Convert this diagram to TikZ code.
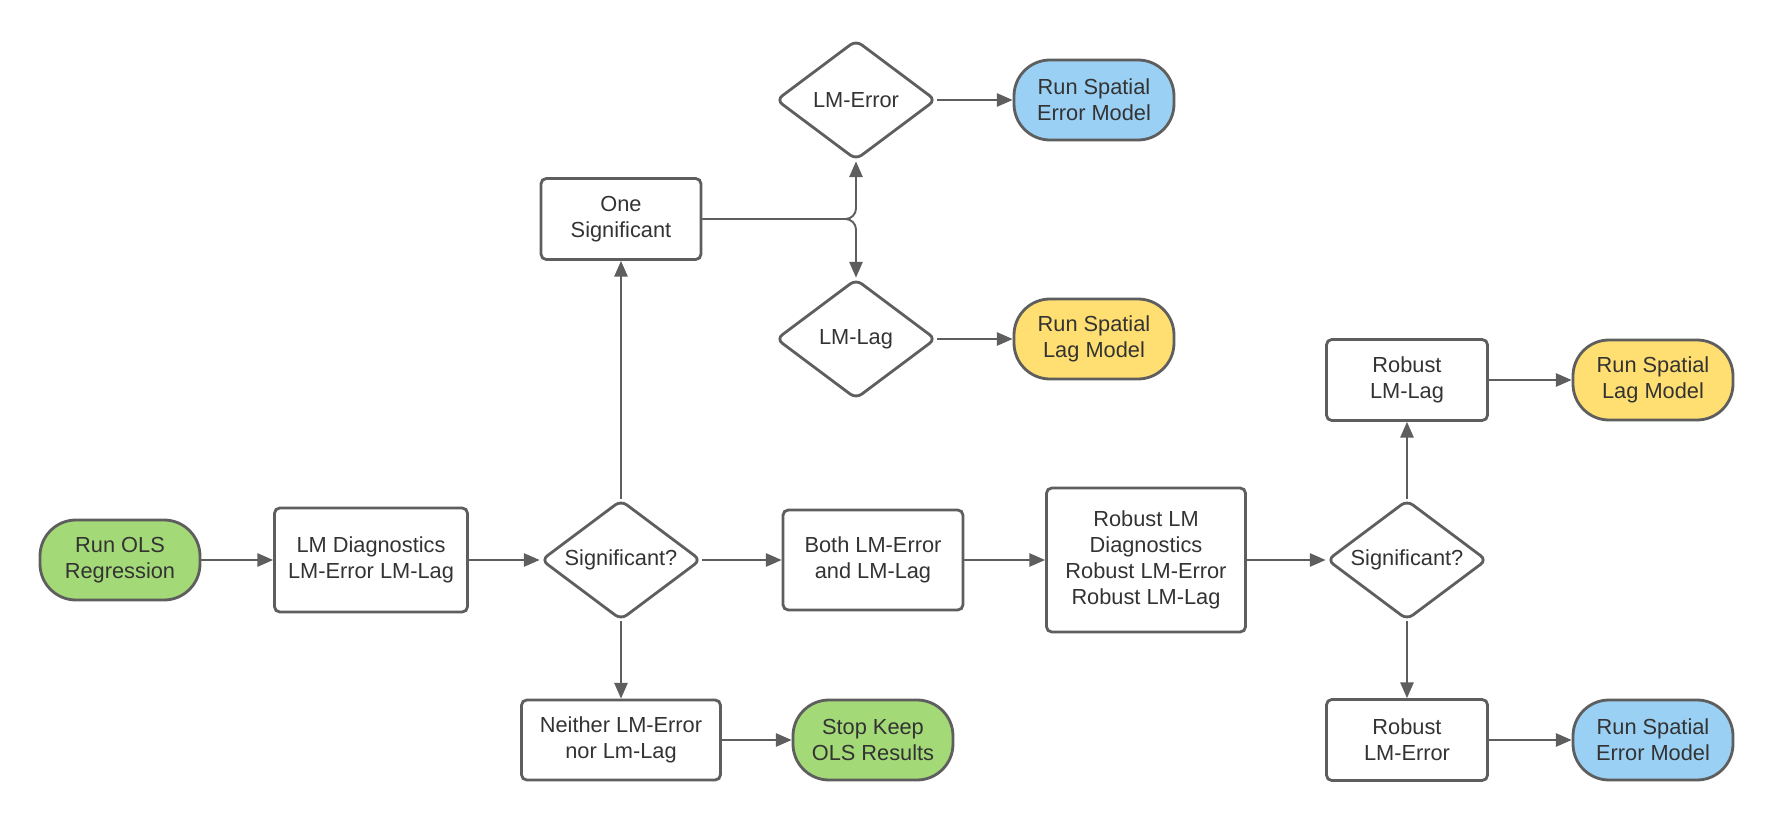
\documentclass[tikz,border=0pt]{standalone}
\usepackage{fontspec}
\setmainfont{Liberation Sans}
\usepackage{xcolor}
\usepackage{tikz}
\usetikzlibrary{shapes.geometric, arrows.meta, positioning}
\definecolor{lineg}{HTML}{5E5E5E}
\definecolor{textg}{HTML}{333333}
\definecolor{okgreen}{HTML}{A3D977}
\definecolor{errblue}{HTML}{9AD0F3}
\definecolor{lagyellow}{HTML}{FFDF71}
\tikzstyle{terminal} = [rectangle, rounded corners=0.36cm, minimum width=1.6cm, minimum height=0.8cm, text centered, align=center, draw=lineg, line width=0.8pt]
\tikzstyle{process} = [rectangle, rounded corners=1.5pt, minimum width=1.6cm, minimum height=0.81cm, text centered, align=center, draw=lineg, line width=0.8pt, fill=white]
\tikzstyle{decision} = [diamond, rounded corners=2pt, minimum width=1.6cm, minimum height=1.2cm, inner sep=0pt, aspect=1.33, text centered, draw=lineg, line width=0.8pt, fill=white]
\tikzstyle{arrow} = [line width=0.55pt, draw=lineg, -{Triangle[length=4.5pt,width=3.8pt]}]

\begin{document}
\begin{tikzpicture}[font=\fontsize{6.2}{7.4}\selectfont, text=textg]
\useasboundingbox (0,0) rectangle (17.74,-8.2);

% main row
\node (olsreg) [terminal, fill=okgreen] at (1.2,-5.6) {Run OLS\\Regression};
\node (lmdiag) [process, right of=olsreg, node distance=2.51cm, minimum width=1.93cm, minimum height=1.04cm] {LM Diagnostics\\LM-Error LM-Lag};
\node (sigone) [decision, right of=lmdiag, node distance=2.5cm] {Significant?};
\node (both) [process, right of=sigone, node distance=2.52cm, minimum width=1.8cm, minimum height=1.0cm] {Both LM-Error\\and LM-Lag};
\node (robdiag) [process, right of=both, node distance=2.73cm, minimum width=1.99cm, minimum height=1.44cm] {Robust LM\\Diagnostics\\Robust LM-Error\\Robust LM-Lag};
\node (sigtwo) [decision, right of=robdiag, node distance=2.61cm] {Significant?};

% robust branch
\node (roblag) [process, above of=sigtwo, node distance=1.8cm, minimum width=1.61cm] {Robust\\LM-Lag};
\node (runlagb) [terminal, fill=lagyellow, right of=roblag, node distance=2.46cm] {Run Spatial\\Lag Model};
\node (roberr) [process, below of=sigtwo, node distance=1.8cm, minimum width=1.61cm] {Robust\\LM-Error};
\node (runerrb) [terminal, fill=errblue, right of=roberr, node distance=2.46cm] {Run Spatial\\Error Model};

% neither / one
\node (neither) [process, below of=sigone, node distance=1.8cm, minimum width=1.99cm, minimum height=0.8cm] {Neither LM-Error\\nor Lm-Lag};
\node (stop) [terminal, fill=okgreen, right of=neither, node distance=2.52cm] {Stop Keep\\OLS Results};
\node (onesig) [process, above of=sigone, node distance=3.41cm] {One\\Significant};

% upper branch
\node (lmerr) [decision] at (8.56,-1.0) {LM-Error};
\node (lmlag) [decision, below of=lmerr, node distance=2.39cm] {LM-Lag};
\node (runerra) [terminal, fill=errblue, right of=lmerr, node distance=2.38cm] {Run Spatial\\Error Model};
\node (runlaga) [terminal, fill=lagyellow, right of=lmlag, node distance=2.38cm] {Run Spatial\\Lag Model};

\draw [arrow] (olsreg) -- (lmdiag);
\draw [arrow] (lmdiag) -- (sigone);
\draw [arrow] (sigone) -- (both);
\draw [arrow] (both) -- (robdiag);
\draw [arrow] (robdiag) -- (sigtwo);
\draw [arrow] (sigtwo) -- (roblag);
\draw [arrow] (sigtwo) -- (roberr);
\draw [arrow] (roblag) -- (runlagb);
\draw [arrow] (roberr) -- (runerrb);
\draw [arrow] (sigone) -- (neither);
\draw [arrow] (neither) -- (stop);
\draw [arrow] (sigone) -- (onesig);
\draw [arrow, rounded corners=3pt] (onesig.east) -| (lmerr.south);
\draw [arrow, rounded corners=3pt] (onesig.east) -| (lmlag.north);
\draw [arrow] (lmerr) -- (runerra);
\draw [arrow] (lmlag) -- (runlaga);

\end{tikzpicture}
\end{document}
